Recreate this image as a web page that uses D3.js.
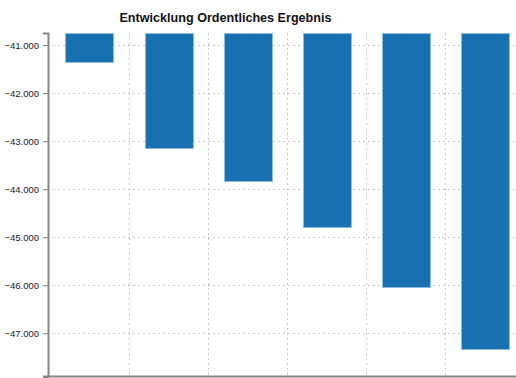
<!DOCTYPE html>
<html>
<head>
<meta charset="utf-8">
<script src="https://cdn.jsdelivr.net/npm/d3@7"></script>
<style>
  html, body { margin: 0; padding: 0; background: #fff; overflow: hidden; }
  svg { display: block; }
</style>
</head>
<body>
<svg id="chart" width="516" height="378"></svg>
<script>
// Ordentliches Ergebnis per Planjahr
const categories = ["2021", "2022", "2023", "2024", "2025", "2026"];
const values = [-41350, -43140, -43840, -44790, -46030, -47320];
const yTicks = [-41000, -42000, -43000, -44000, -45000, -46000, -47000];
const yDomain = [-47900, -40750];
const title = "Entwicklung Ordentliches Ergebnis";

const width = 516, height = 378;
const plot = { left: 48, top: 33, bottom: 376.5, xStart: 49.9, xEnd: 524.4 };

const de = d3.formatLocale({ decimal: ",", thousands: ".", grouping: [3], currency: ["", " €"] });
const fmt = de.format(",.0f");

const svg = d3.select("#chart");

const x = d3.scaleBand().domain(categories).range([plot.xStart, plot.xEnd]).padding(0);
const y = d3.scaleLinear().domain(yDomain).range([plot.bottom, plot.top]);

// horizontal grid
svg.append("g")
  .selectAll("line")
  .data(yTicks)
  .join("line")
  .attr("x1", plot.left)
  .attr("x2", width)
  .attr("y1", d => Math.round(y(d)) + 0.5)
  .attr("y2", d => Math.round(y(d)) + 0.5)
  .attr("stroke", "#c8c8c8")
  .attr("stroke-dasharray", "2,3");

// vertical grid at category boundaries
svg.append("g")
  .selectAll("line")
  .data(categories.slice(1))
  .join("line")
  .attr("x1", d => Math.round(x(d)) + 0.5)
  .attr("x2", d => Math.round(x(d)) + 0.5)
  .attr("y1", plot.top)
  .attr("y2", plot.bottom)
  .attr("stroke", "#c8c8c8")
  .attr("stroke-dasharray", "2,3");

// bars hang from the top of the value range
const barW = 48;
svg.append("g")
  .selectAll("rect")
  .data(values)
  .join("rect")
  .attr("x", (d, i) => Math.round(x(categories[i]) + x.bandwidth() / 2 - barW / 2) + 0.5)
  .attr("y", y(yDomain[1]) + 0.5)
  .attr("width", barW)
  .attr("height", d => Math.round(y(d) - y(yDomain[1])))
  .attr("fill", "#1a71b2")
  .attr("stroke", "#8dbbe0")
  .attr("stroke-width", 1);

// y axis
const yAxis = d3.axisLeft(y)
  .tickValues(yTicks)
  .tickFormat(fmt)
  .tickSize(5)
  .tickSizeOuter(5)
  .tickPadding(4);

const gy = svg.append("g")
  .attr("transform", `translate(${plot.left},0)`)
  .call(yAxis);
gy.select(".domain").attr("stroke", "#858585").attr("stroke-width", 2);
gy.selectAll(".tick line").attr("stroke", "#858585");
gy.selectAll(".tick text")
  .attr("fill", "#222")
  .style("font-family", "'Liberation Sans', Arial, sans-serif")
  .style("font-size", "9.5px");

// x axis: baseline only, category labels sit below the visible area
const xAxis = d3.axisBottom(x).tickSize(0).tickSizeOuter(0).tickFormat("");
const gx = svg.append("g")
  .attr("transform", `translate(0,${plot.bottom})`)
  .call(xAxis);
gx.select(".domain").attr("stroke", "#858585").attr("stroke-width", 2)
  .attr("d", `M${plot.left - 5},0H${width}`);

// title
svg.append("text")
  .attr("x", 225.5)
  .attr("y", 21.5)
  .attr("text-anchor", "middle")
  .style("font-family", "'Liberation Sans', Arial, sans-serif")
  .style("font-weight", "bold")
  .style("font-size", "12.6px")
  .attr("fill", "#111")
  .text(title);
</script>
</body>
</html>
